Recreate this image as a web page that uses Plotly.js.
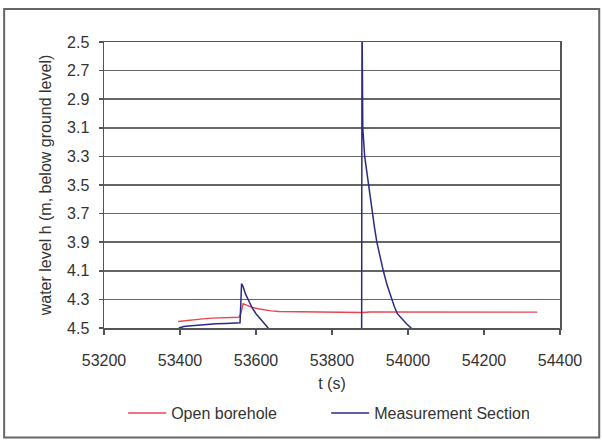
<!DOCTYPE html>
<html>
<head>
<meta charset="utf-8">
<script src="https://cdn.plot.ly/plotly-3.0.1.min.js"></script>
<style>
html,body{margin:0;padding:0;background:#fff;}
#chart{width:602px;height:441px;}
</style>
</head>
<body>
<div id="chart"></div>
<script>
// Open borehole
const tOpen = [53395, 53420, 53440, 53460, 53485, 53510, 53530, 53555, 53560, 53566, 53575, 53590, 53605, 53620, 53640, 53660, 53700, 53800, 53880, 53900, 54000, 54100, 54200, 54340];
const hOpen = [4.455, 4.447, 4.440, 4.436, 4.431, 4.430, 4.428, 4.425, 4.40, 4.33, 4.34, 4.356, 4.365, 4.372, 4.380, 4.385, 4.387, 4.388, 4.392, 4.388, 4.388, 4.389, 4.389, 4.389];

// Measurement Section
const tMeas = [53397, 53410, 53430, 53450, 53470, 53495, 53520, 53540, 53558, 53562, 53566, 53572, 53580, 53590, 53600, 53612, 53622, 53632, 53650, 53870, 53878, 53879, 53881, 53886, 53891, 53896, 53901, 53906, 53912, 53918, 53926, 53935, 53945, 53957, 53964, 53972, 53985, 53996, 54008, 54020];
const hMeas = [4.50, 4.49, 4.485, 4.48, 4.478, 4.47, 4.468, 4.465, 4.463, 4.19, 4.21, 4.26, 4.31, 4.36, 4.40, 4.44, 4.47, 4.50, 4.55, 4.55, 4.55, 2.3, 3.1, 3.3, 3.4, 3.5, 3.6, 3.7, 3.8, 3.9, 4.0, 4.1, 4.2, 4.3, 4.35, 4.4, 4.44, 4.47, 4.5, 4.55];

const xTicks = [53200, 53400, 53600, 53800, 54000, 54200, 54400];
const yTicks = [2.5, 2.7, 2.9, 3.1, 3.3, 3.5, 3.7, 3.9, 4.1, 4.3, 4.5];

const font = {family: 'Arial, "Liberation Sans", sans-serif', size: 16, color: '#333'};

const traces = [
  {x: tOpen, y: hOpen, mode: 'lines', name: 'Open borehole',
   line: {color: '#e8474f', width: 1.4}},
  {x: tMeas, y: hMeas, mode: 'lines', name: 'Measurement Section',
   line: {color: '#2b2b86', width: 1.5}}
];

const layout = {
  width: 602, height: 441,
  margin: {l: 104, r: 42, t: 42, b: 112},
  paper_bgcolor: '#ffffff', plot_bgcolor: '#ffffff',
  font: font,
  showlegend: true,
  legend: {orientation: 'h', x: 0.042, xanchor: 'left', y: -0.293, yanchor: 'middle',
           itemwidth: 38, entrywidth: 150, entrywidthmode: 'pixels', font: {size: 16, color: '#333'},
           bgcolor: 'rgba(0,0,0,0)'},
  xaxis: {
    range: [53200, 54400], tickvals: xTicks, ticktext: xTicks.map(String),
    showgrid: false, zeroline: false,
    showline: true, linecolor: '#555', linewidth: 1.5, mirror: true,
    ticks: 'outside', ticklen: 5, tickcolor: '#555', tickwidth: 1.5,
    ticklabelstandoff: 12,
    tickfont: {size: 16, color: '#333'},
    title: {text: 't (s)', font: {size: 16, color: '#333'}, standoff: 10}
  },
  yaxis: {
    range: [4.5, 2.5], tickvals: yTicks, ticktext: yTicks.map(v => v.toFixed(1)),
    showgrid: true, gridcolor: '#666', gridwidth: 1.5, zeroline: false,
    showline: true, linecolor: '#555', linewidth: 1.5, mirror: true,
    ticks: 'outside', ticklen: 4, tickcolor: '#555', tickwidth: 1.5,
    ticklabelstandoff: 6,
    tickfont: {size: 16, color: '#333'},
    title: {text: 'water level h (m, below ground level)', font: {size: 16, color: '#333'}, standoff: 11}
  },
  shapes: [
    {type: 'rect', xref: 'paper', yref: 'paper',
     x0: -0.219, x1: 1.086, y0: -0.383, y1: 1.115,
     line: {color: '#666', width: 2}, fillcolor: 'rgba(0,0,0,0)', layer: 'below'}
  ]
};

Plotly.newPlot('chart', traces, layout, {displayModeBar: false, staticPlot: true});
</script>
</body>
</html>
